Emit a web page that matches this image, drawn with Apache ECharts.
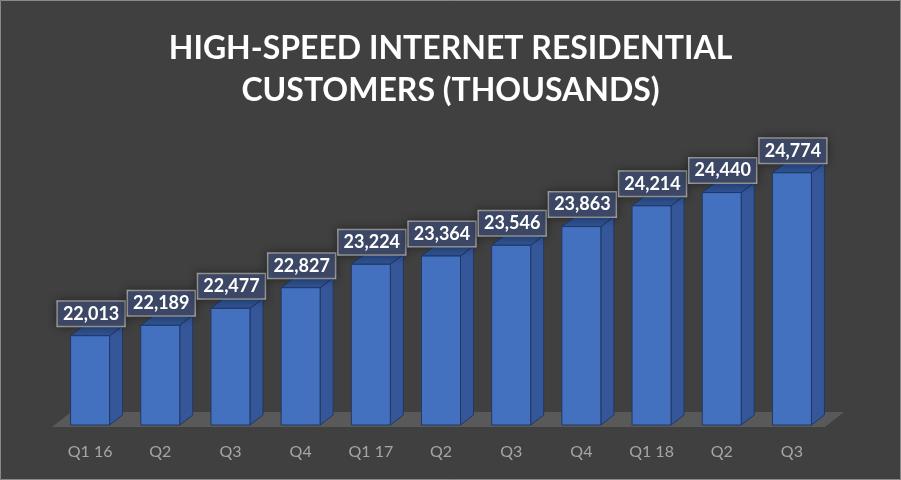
<!DOCTYPE html>
<html>
<head>
<meta charset="utf-8">
<script src="https://cdn.jsdelivr.net/npm/echarts@6/dist/echarts.min.js"></script>
<style>
  html, body { margin: 0; padding: 0; background: #404040; }
  #chart { width: 901px; height: 480px; }
</style>
</head>
<body>
<div id="chart"></div>
<script>
var quarters = ['Q1 16', 'Q2', 'Q3', 'Q4', 'Q1 17', 'Q2', 'Q3', 'Q4', 'Q1 18', 'Q2', 'Q3'];
var customers = [22013, 22189, 22477, 22827, 23224, 23364, 23546, 23863, 24214, 24440, 24774];

var yMin = 20500;
var barW = 39, depthX = 13, depthY = 10;

function renderBar(params, api) {
    var top = api.coord([api.value(0), api.value(1)]);
    var base = api.coord([api.value(0), yMin]);
    var l = top[0] - barW / 2, r = top[0] + barW / 2;
    var edge = { stroke: '#203864', lineWidth: 1 };
    return {
        type: 'group',
        children: [
            {
                type: 'polygon',
                shape: { points: [[r, top[1]], [r + depthX, top[1] - depthY], [r + depthX, base[1] - depthY], [r, base[1]]] },
                style: Object.assign({ fill: '#36569a' }, edge)
            },
            {
                type: 'polygon',
                shape: { points: [[l, top[1]], [l + depthX, top[1] - depthY], [r + depthX, top[1] - depthY], [r, top[1]]] },
                style: Object.assign({ fill: '#2f5291' }, edge)
            },
            {
                type: 'rect',
                shape: { x: l, y: top[1], width: barW, height: base[1] - top[1] },
                style: Object.assign({ fill: '#4470c0' }, edge)
            },
            {
                type: 'text',
                x: top[0] + 1,
                y: top[1] - depthY,
                style: {
                    text: echarts.format.addCommas(api.value(1)),
                    fill: '#ffffff',
                    font: 'bold 18px Lato',
                    align: 'center',
                    verticalAlign: 'bottom',
                    backgroundColor: '#3b4765',
                    borderColor: '#a6a6a6',
                    borderWidth: 1.5,
                    padding: [3, 5, 3, 5],
                    shadowBlur: 8,
                    shadowColor: 'rgba(0,0,0,0.35)'
                }
            }
        ]
    };
}

function renderFloor(params, api) {
    var cs = params.coordSys;
    var y0 = cs.y + cs.height + 2;
    var x0 = cs.x - 3, x1 = cs.x + cs.width - 2;
    return {
        type: 'polygon',
        shape: { points: [[x0, y0], [x1, y0], [x1 + 19, y0 - 15], [x0 + 19, y0 - 15]] },
        style: { fill: '#595959' }
    };
}

var option = {
    backgroundColor: '#404040',
    title: {
        text: 'HIGH-SPEED INTERNET RESIDENTIAL\nCUSTOMERS (THOUSANDS)',
        left: 'center',
        top: 23,
        textStyle: {
            color: '#ffffff',
            fontFamily: 'Lato',
            fontWeight: 'bold',
            fontSize: 32,
            lineHeight: 42
        }
    },
    grid: { left: 55, right: 74, top: 130, bottom: 55 },
    xAxis: {
        type: 'category',
        data: quarters,
        axisLine: { show: false },
        axisTick: { show: false },
        axisLabel: { color: '#a6a6a6', fontFamily: 'Lato', fontSize: 16, margin: 19 }
    },
    yAxis: {
        type: 'value',
        min: yMin,
        max: 25500,
        show: false,
        splitLine: { show: false }
    },
    graphic: [{
        type: 'rect',
        shape: { x: 0.5, y: 0.5, width: 900, height: 479 },
        style: { fill: 'none', stroke: '#8a8a8a', lineWidth: 1 },
        z: 100
    }],
    series: [
        {
            type: 'custom',
            renderItem: renderFloor,
            data: [[0, yMin]],
            z: 1,
            silent: true
        },
        {
            type: 'custom',
            renderItem: renderBar,
            data: customers.map(function (v, i) { return [i, v]; }),
            z: 2
        }
    ]
};

var myChart = echarts.init(document.getElementById('chart'));
myChart.setOption(option);
</script>
</body>
</html>
